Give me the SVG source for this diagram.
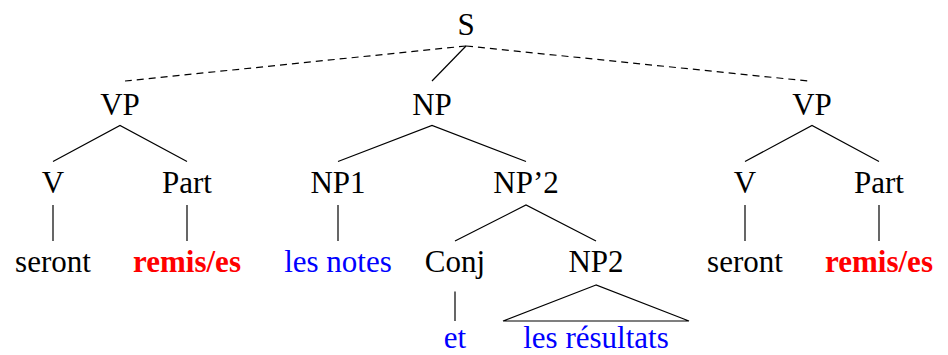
<svg xmlns="http://www.w3.org/2000/svg" width="948" height="355" viewBox="0 0 948 355">
<rect width="948" height="355" fill="#fff"/>
<g id="connectors" stroke="#000" stroke-width="1.2" fill="none">
<line stroke-dasharray="7 5" x1="466" y1="46" x2="125" y2="81"/>
<line x1="466" y1="46" x2="432" y2="81"/>
<line stroke-dasharray="7 5" x1="466" y1="46" x2="808" y2="81"/>
<polyline points="53,161.5 120,125.5 187,161.5"/>
<polyline points="338,161.5 432,125.5 526,161.5"/>
<polyline points="745,161.5 812,125.5 879,161.5"/>
<line x1="53" y1="205" x2="53" y2="241"/>
<line x1="187" y1="205" x2="187" y2="241"/>
<line x1="338" y1="205" x2="338" y2="241"/>
<line x1="745" y1="205" x2="745" y2="241"/>
<line x1="879" y1="205" x2="879" y2="241"/>
<polyline points="455,241 526,205 596,241"/>
<line x1="455" y1="291.5" x2="455" y2="321"/>
<polygon points="596,285 503,321 689,321"/>
</g>
<g font-family="Liberation Serif" font-size="31" text-anchor="middle" fill="#000">
<g id="S"><text x="466" y="35">S</text></g>
<g id="VP1"><text x="120" y="115">VP</text></g>
<g id="NP"><text x="432" y="115">NP</text></g>
<g id="VP2"><text x="812" y="115">VP</text></g>
<g id="V1"><text x="53" y="193">V</text></g>
<g id="Part1"><text x="187" y="193">Part</text></g>
<g id="NP1"><text x="338" y="193">NP1</text></g>
<g id="NPp2"><text x="526" y="193">NP’2</text></g>
<g id="V2"><text x="745" y="193">V</text></g>
<g id="Part2"><text x="879" y="193">Part</text></g>
<g id="seront1"><text x="53" y="272">seront</text></g>
<g id="remis1"><text fill="#ff0000" font-weight="bold" x="187" y="272">remis/es</text></g>
<g id="lesnotes"><text fill="#0000ff" x="338" y="272">les notes</text></g>
<g id="Conj"><text x="455" y="272">Conj</text></g>
<g id="NP2"><text x="596" y="272">NP2</text></g>
<g id="seront2"><text x="745" y="272">seront</text></g>
<g id="remis2"><text fill="#ff0000" font-weight="bold" x="879" y="272">remis/es</text></g>
<g id="et"><text fill="#0000ff" x="455" y="348">et</text></g>
<g id="lesresultats"><text fill="#0000ff" x="596" y="348">les résultats</text></g>
</g>
</svg>
